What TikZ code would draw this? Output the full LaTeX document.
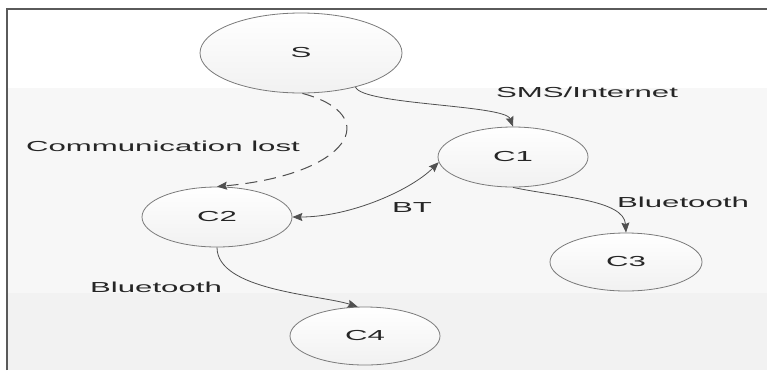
\documentclass[tikz,border=0pt]{standalone}
\usepackage{fontspec}
\newfontfamily\diagfont{Liberation Sans}[FakeStretch=2.15]
\usetikzlibrary{shapes.geometric,arrows.meta}
\definecolor{edgegray}{HTML}{505050}
\definecolor{rimgray}{HTML}{7A7A7A}
\definecolor{framegray}{HTML}{5A5A5A}
\definecolor{nodegray}{HTML}{F1F1F1}
\definecolor{bandmid}{HTML}{F7F7F7}
\definecolor{bandlow}{HTML}{F2F2F2}
\begin{document}
\begin{tikzpicture}[x=1pt, y=-1pt, %one unit = one pixel, y runs down
  font=\diagfont\fontsize{14.5}{17}\selectfont,
  phone/.style={ellipse, draw=rimgray, line width=0.8pt, top color=white, bottom color=nodegray,
    inner sep=0pt, minimum width=150pt, minimum height=60pt, text=black!85},
  link/.style={draw=edgegray, line width=0.8pt, -{Stealth[length=10pt,width=8pt,inset=1.5pt]}},
  lbl/.style={text=black!85, inner sep=0pt}]
\useasboundingbox (0,0) rectangle (767,370);
% backdrop and frame
\fill[white] (0,0) rectangle (767,370);
\fill[bandmid] (8,88) rectangle (767,293);
\fill[bandlow] (8,293) rectangle (767,370);
\draw[framegray, line width=1.6pt] (7,370) -- (7,9) -- (767,9);
% the phones
\node[phone, minimum width=202pt, minimum height=80pt] (S) at (301,53) {S};
\node[phone] (C1) at (513,157) {C1};
\node[phone] (C2) at (217,217) {C2};
\node[phone, minimum width=152pt, minimum height=58pt] (C3) at (626,262) {C3};
\node[phone, minimum height=58pt] (C4) at (365,336) {C4};
% links
\draw[link] (S.-32) .. controls +(7,18) and +(-8,-22) .. (C1.north);
\draw[link, line width=1pt, dash pattern=on 12pt off 7pt] (S.-88) .. controls +(82,22) and +(133,-12) .. (C2.north);
\draw[link, {Stealth[length=10pt,width=8pt,inset=1.5pt]}-{Stealth[length=10pt,width=8pt,inset=1.5pt]}]
  (C2.east) .. controls +(58,0) and +(-28,28) .. (C1.-176);
\draw[link] (C1.south) .. controls +(47,10) and +(-2,-33) .. (C3.north);
\draw[link] (C2.south) .. controls +(0,43) and +(-38,-12) .. (C4.104);
% labels
\node[lbl] (smsnet) at (587,92) {SMS/Internet};
\node[lbl] (lost) at (163,146) {Communication lost};
\node[lbl] (bt) at (412,208) {BT};
\node[lbl] (bluec3) at (683,202) {Bluetooth};
\node[lbl] (bluec4) at (156,287) {Bluetooth};
\end{tikzpicture}
\end{document}
